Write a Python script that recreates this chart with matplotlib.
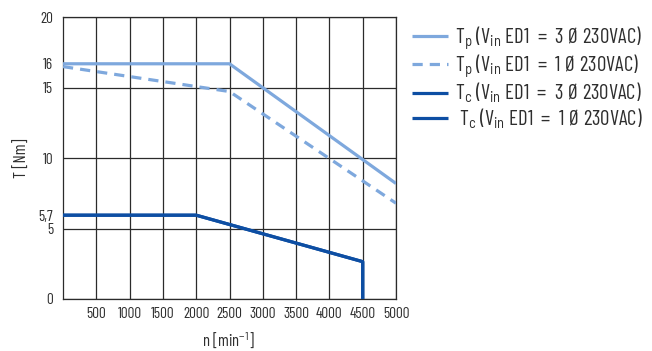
import matplotlib
matplotlib.use("Agg")
import matplotlib.pyplot as plt

# ---- data ----
speed_tp3 = [0, 2500, 5000]
torque_tp3 = [16.7, 16.7, 8.2]

speed_tp1 = [0, 2500, 5000]
torque_tp1 = [16.5, 14.73, 6.8]

speed_tc = [0, 2000, 4500, 4500]
torque_tc3 = [5.95, 5.95, 2.65, 0]
torque_tc1 = [5.95, 5.95, 2.65, 0]

xticks = [500, 1000, 1500, 2000, 2500, 3000, 3500, 4000, 4500, 5000]
xticklabels = [str(v) for v in xticks]
yticks = [0, 5, 5.95, 10, 15, 16.7, 20]
yticklabels = ["0", "5", "5,7", "10", "15", "16", "20"]
ygrid = [0, 5, 10, 15, 20]

labels = [
    r"T$_\mathrm{p}$ (V$_\mathrm{in}$ ED1  =  3 Ø 230VAC)",
    r"T$_\mathrm{p}$ (V$_\mathrm{in}$ ED1  =  1 Ø 230VAC)",
    r"T$_\mathrm{c}$ (V$_\mathrm{in}$ ED1  =  3 Ø 230VAC)",
    r" T$_\mathrm{c}$ (V$_\mathrm{in}$ ED1  =  1 Ø 230VAC)",
]

# ---- style ----
FONT = "Barlow Condensed"
LFONT = "Barlow Semi Condensed"
plt.rcParams["font.family"] = [FONT, "DejaVu Sans"]
plt.rcParams["mathtext.fontset"] = "custom"
plt.rcParams["mathtext.rm"] = LFONT
plt.rcParams["mathtext.it"] = LFONT
plt.rcParams["mathtext.bf"] = LFONT

light = "#7ea8dd"
dark = "#0d4ea3"
gridc = "#2b2b2b"
textc = "#2e2e2e"

fig = plt.figure(figsize=(6.52, 3.51), dpi=100)
ax = fig.add_axes([63 / 652, 1 - 299 / 351, (396 - 63) / 652, (299 - 17.3) / 351])

ax.set_xlim(0, 5000)
ax.set_ylim(0, 20)

for x in xticks:
    ax.axvline(x, color=gridc, lw=0.9, zorder=1)
for y in ygrid:
    ax.axhline(y, color=gridc, lw=0.9, zorder=1)
for s in ax.spines.values():
    s.set_color(gridc)
    s.set_linewidth(0.9)

lw = 2.3
l1, = ax.plot(speed_tp3, torque_tp3, color=light, lw=lw, solid_capstyle="butt", zorder=3)
l2, = ax.plot(speed_tp1, torque_tp1, color=light, lw=lw, ls=(0, (3.2, 2.2)), dash_capstyle="butt", zorder=3)
l3, = ax.plot(speed_tc, torque_tc3, color=dark, lw=lw, solid_capstyle="butt", zorder=3)
l4, = ax.plot(speed_tc, torque_tc1, color=dark, lw=lw, solid_capstyle="butt", zorder=3)

ax.set_xticks(xticks)
ax.set_xticklabels(xticklabels)
ax.set_yticks(yticks)
ax.set_yticklabels(yticklabels)
ax.tick_params(axis="both", length=0, labelsize=11, colors=textc)
ax.tick_params(axis="x", pad=6)
ax.tick_params(axis="y", pad=7)

fig.text(22 / 652, 1 - 158 / 351, "T [Nm]", rotation=90, ha="center", va="center",
         fontsize=12, color=textc)
fig.text(228 / 652, 1 - 340 / 351, r"n [min$^{\mathrm{-1}}$]", ha="center", va="center",
         fontsize=12, color=textc)

leg = fig.legend([l1, l2, l3, l4], labels, loc="upper left",
                 bbox_to_anchor=(412 / 652, 1 - 24 / 351), frameon=False,
                 fontsize=15, handlelength=1.73, handletextpad=0.34,
                 labelspacing=0.05, borderaxespad=0, borderpad=0)
for t in leg.get_texts():
    t.set_color(textc)

fig.savefig("out.png", dpi=100)
